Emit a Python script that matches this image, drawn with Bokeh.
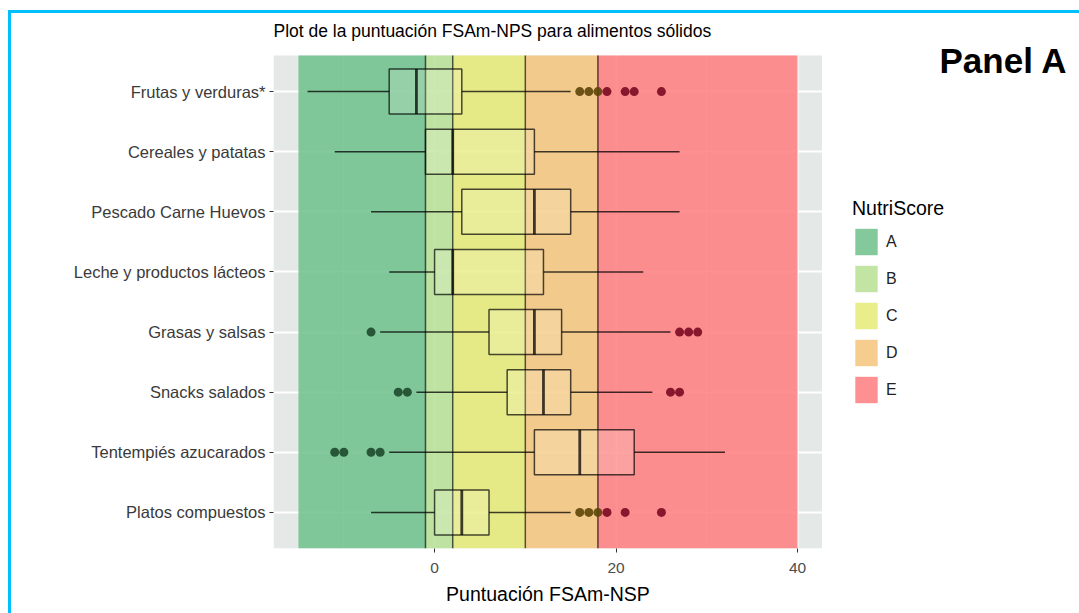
from bokeh.plotting import figure
from bokeh.layouts import row
from bokeh.models import Range1d, FixedTicker, Legend, LegendItem, Label, ColumnDataSource
from bokeh.embed import file_html
from bokeh.resources import INLINE

# ---------------- data ----------------
categories = ["Frutas y verduras*", "Cereales y patatas", "Pescado Carne Huevos",
              "Leche y productos lácteos", "Grasas y salsas", "Snacks salados",
              "Tentempiés azucarados", "Platos compuestos"]
whisker_low = [-14, -11, -7, -5, -6, -2, -5, -7]
q1 = [-5, -1, 3, 0, 6, 8, 11, 0]
median = [-2, 2, 11, 2, 11, 12, 16, 3]
q3 = [3, 11, 15, 12, 14, 15, 22, 6]
whisker_high = [15, 27, 27, 23, 26, 24, 32, 15]
outliers = {
    "Frutas y verduras*": [16, 17, 18, 19, 21, 22, 25],
    "Grasas y salsas": [-7, 27, 28, 29],
    "Snacks salados": [-4, -3, 26, 27],
    "Tentempiés azucarados": [-11, -10, -7, -6],
    "Platos compuestos": [16, 17, 18, 19, 21, 25],
}
grades = ["A", "B", "C", "D", "E"]
grade_low = [-15, -1, 2, 10, 18]
grade_high = [-1, 2, 10, 18, 40]
grade_colors = ["#6DBF8B", "#B7E194", "#E5EA75", "#F4C47A", "#FF7D7E"]
grade_dark = ["#1E4A2C", "#3F5A20", "#5A5A10", "#5E4508", "#7A0A22"]
tick_values = [0, 20, 40]
minor_values = [-10, 10, 30]
title_text = "Plot de la puntuación FSAm-NPS para alimentos sólidos"
x_title = "Puntuación FSAm-NSP"
legend_title = "NutriScore"
panel_text = "Panel A"

# ---------------- layout ----------------
FONT = "Liberation Sans"
PANEL_W, PANEL_H = 549, 493        # grey plotting panel in px
TOP_PX, BOTTOM_PX, LEFT_PX = 42, 65, 262
SIDE_W = 257

n = len(categories)
ypos = [n - i for i in range(n)]
pos = dict(zip(categories, ypos))
span_x = max(grade_high) - min(grade_low)
x_lo = min(grade_low) - 0.05 * span_x
x_hi = max(grade_high) + 0.05 * span_x
y_lo, y_hi = 0.4, n + 0.6
pxu_x = PANEL_W / (x_hi - x_lo)
pxu_y = PANEL_H / (y_hi - y_lo)
y_end = y_hi + TOP_PX / pxu_y
box_h = 0.75

p = figure(output_backend="svg", toolbar_location=None,
           frame_width=PANEL_W, frame_height=PANEL_H + TOP_PX,
           min_border=0, min_border_left=LEFT_PX, min_border_bottom=BOTTOM_PX,
           x_range=Range1d(x_lo, x_hi), y_range=Range1d(y_lo, y_end))
p.background_fill_color = "white"
p.border_fill_color = "white"
p.outline_line_color = None

# grey panel (drawn under the grid)
p.quad(left=[x_lo], right=[x_hi], bottom=[y_lo], top=[y_hi], fill_color="#E4E8E6",
       line_color=None, level="image")

# grid
p.xgrid.ticker = FixedTicker(ticks=tick_values, minor_ticks=minor_values)
p.xgrid.grid_line_color = "white"
p.xgrid.grid_line_width = 2
p.xgrid.minor_grid_line_color = "white"
p.xgrid.minor_grid_line_width = 1
p.ygrid.ticker = FixedTicker(ticks=ypos)
p.ygrid.grid_line_color = "white"
p.ygrid.grid_line_width = 2

# NutriScore bands
band_src = ColumnDataSource(dict(left=grade_low, right=grade_high, bottom=[y_lo] * len(grades),
                                 top=[y_hi] * len(grades), color=grade_colors, grade=grades))
for i in range(len(grades)):
    p.quad(left=[grade_low[i]], right=[grade_high[i]], bottom=[y_lo], top=[y_hi],
           fill_color=grade_colors[i], fill_alpha=0.85, line_color=None)

# thresholds
thr = grade_high[:-1]
p.segment(x0=thr, x1=thr, y0=[y_lo] * len(thr), y1=[y_hi] * len(thr),
          line_color="black", line_alpha=0.65, line_width=1.5)

# boxplots
bsrc = ColumnDataSource(dict(y=ypos, lo=whisker_low, q1=q1, med=median, q3=q3, hi=whisker_high,
                             ylo=[y - box_h / 2 for y in ypos], yhi=[y + box_h / 2 for y in ypos]))
p.segment(x0="lo", x1="q1", y0="y", y1="y", source=bsrc, line_color="black",
          line_alpha=0.75, line_width=1.5)
p.segment(x0="q3", x1="hi", y0="y", y1="y", source=bsrc, line_color="black",
          line_alpha=0.75, line_width=1.5)
p.hbar(y="y", left="q1", right="q3", height=box_h, source=bsrc, fill_color="#FFFFF0",
       fill_alpha=0.18, line_color="black", line_alpha=0.7, line_width=1.5)
p.segment(x0="med", x1="med", y0="ylo", y1="yhi", source=bsrc, line_color="black",
          line_alpha=0.75, line_width=2.8)


def grade_of(v):
    for g_i, hi in enumerate(grade_high):
        if v <= hi:
            return g_i
    return len(grade_high) - 1


ox, oy, oc = [], [], []
for cat, vals in outliers.items():
    for v in vals:
        ox.append(v)
        oy.append(pos[cat])
        oc.append(grade_dark[grade_of(v)])
p.scatter(x=ox, y=oy, size=9, fill_color=oc, fill_alpha=0.9, line_color=None)

# axes
p.xaxis.ticker = FixedTicker(ticks=tick_values)
p.xaxis.axis_line_color = None
p.xaxis.major_tick_line_color = "#333333"
p.xaxis.major_tick_in = 0
p.xaxis.major_tick_out = 4
p.xaxis.minor_tick_line_color = None
p.xaxis.major_label_text_font = FONT
p.xaxis.major_label_text_font_size = "15.5px"
p.xaxis.major_label_text_color = "#4D4D4D"
p.xaxis.major_label_standoff = 10
p.xaxis.axis_label = x_title
p.xaxis.axis_label_text_font = FONT
p.xaxis.axis_label_text_font_size = "19.5px"
p.xaxis.axis_label_text_font_style = "normal"
p.xaxis.axis_label_text_color = "black"
p.xaxis.axis_label_standoff = 7

p.yaxis.ticker = FixedTicker(ticks=ypos)
p.yaxis.major_label_overrides = {y: c for y, c in zip(ypos, categories)}
p.yaxis.axis_line_color = None
p.yaxis.major_tick_line_color = "#333333"
p.yaxis.major_tick_in = 0
p.yaxis.major_tick_out = 4
p.yaxis.minor_tick_line_color = None
p.yaxis.major_label_text_font = FONT
p.yaxis.major_label_text_font_size = "16.5px"
p.yaxis.major_label_text_color = "#3A3A3A"
p.yaxis.major_label_standoff = 4

# title (inside the extended frame, above the grey panel)
p.add_layout(Label(x=x_lo, y=y_hi + 25 / pxu_y, text=title_text, text_font=FONT,
                   text_font_size="17.5px", text_color="black",
                   text_align="left", text_baseline="middle"))

# ---------------- side figure: legend + panel label ----------------
side = figure(output_backend="svg", toolbar_location=None,
              frame_width=SIDE_W, frame_height=TOP_PX + PANEL_H + BOTTOM_PX,
              min_border=0, x_axis_type=None, y_axis_type=None,
              x_range=Range1d(x_hi, x_hi + SIDE_W / pxu_x),
              y_range=Range1d(y_lo - BOTTOM_PX / pxu_y, y_end))
side.background_fill_color = "white"
side.border_fill_color = "white"
side.outline_line_color = None
side.grid.visible = False

legend_items = []
for i, g in enumerate(grades):
    # same bands, in the side plot's coordinates they lie left of its range (not drawn)
    r = side.quad(left=[grade_low[i]], right=[grade_high[i]], bottom=[y_lo], top=[y_hi],
                  fill_color=grade_colors[i], fill_alpha=0.85, line_color=None)
    legend_items.append(LegendItem(label=g, renderers=[r]))

legend = Legend(items=legend_items, title=legend_title, location=(30, 207),
                orientation="vertical", glyph_width=28, glyph_height=33, spacing=4,
                padding=0, margin=0, label_standoff=6, title_standoff=5,
                background_fill_alpha=0, border_line_color=None)
legend.title_text_font = FONT
legend.title_text_font_size = "19.5px"
legend.title_text_font_style = "normal"
legend.title_text_color = "black"
legend.label_text_font = FONT
legend.label_text_font_size = "16px"
legend.label_text_color = "#222222"
side.add_layout(legend, "center")

side.add_layout(Label(x=x_hi + 117 / pxu_x, y=y_hi + (55 - 60) / pxu_y, text=panel_text,
                      text_font=FONT, text_font_size="35px",
                      text_font_style="bold", text_color="black",
                      text_align="left", text_baseline="middle"))

layout = row(p, side, spacing=0)
layout.styles = {"margin-left": "8px", "margin-top": "10px",
                 "border-top": "3px solid #00BFFF", "border-left": "3px solid #00BFFF"}

open("out.html", "w").write(file_html(layout, INLINE))
